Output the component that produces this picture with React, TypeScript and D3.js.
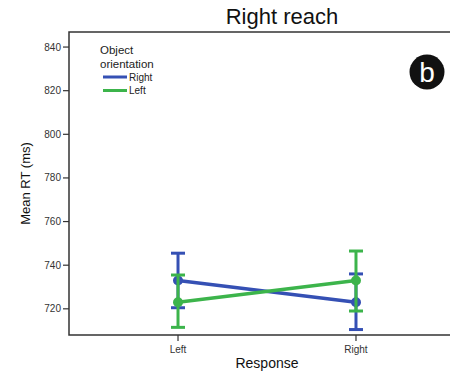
import React from "react";
import * as d3 from "d3";

const responses = ["Left", "Right"];
const yTicks = [720, 740, 760, 780, 800, 820, 840];

// Object orientation = Right (blue)
const rightMean = [733, 723];
const rightLow = [720.5, 710.5];
const rightHigh = [745.5, 736];

// Object orientation = Left (green)
const leftMean = [723, 733];
const leftLow = [711.5, 719];
const leftHigh = [735.5, 746.5];

const series = [
  { name: "Right", color: "#3550b4", mean: rightMean, low: rightLow, high: rightHigh },
  { name: "Left", color: "#3cb44b", mean: leftMean, low: leftLow, high: leftHigh },
];

const W = 450;
const H = 372;
const margin = { top: 32, right: -15, bottom: 37, left: 69 };
const font = "'Liberation Sans', Arial, sans-serif";

export default function App() {
  const x = d3
    .scalePoint<string>()
    .domain(responses)
    .range([margin.left, W - margin.right])
    .padding(0.6125);

  const y = d3
    .scaleLinear()
    .domain([708, 846.9])
    .range([H - margin.bottom, margin.top]);

  const line = d3
    .line<number>()
    .x((_, i) => x(responses[i]) as number)
    .y((d) => y(d));

  const bottom = H - margin.bottom;
  const cap = 7;

  return (
    <svg width={W} height={H} style={{ position: "absolute", left: 0, top: 0 }} fontFamily={font}>
      <rect width={W} height={H} fill="#fff" />
      <text x={282} y={24} textAnchor="middle" fontSize={22} fill="#111">
        Right reach
      </text>

      {/* frame */}
      <path
        d={`M${W + 5},${margin.top}H${margin.left}V${bottom}H${W + 5}`}
        fill="none"
        stroke="#333"
        strokeWidth={1.5}
      />

      {/* y axis */}
      {yTicks.map((t) => (
        <g key={t}>
          <line x1={margin.left - 6} x2={margin.left} y1={y(t)} y2={y(t)} stroke="#333" strokeWidth={1.2} />
          <text x={margin.left - 8} y={y(t)} dy="0.35em" textAnchor="end" fontSize={10} fill="#333">
            {t}
          </text>
        </g>
      ))}
      <text
        transform={`translate(30,${(margin.top + bottom) / 2}) rotate(-90)`}
        textAnchor="middle"
        fontSize={13}
        fill="#111"
      >
        Mean RT (ms)
      </text>

      {/* x axis */}
      {responses.map((r) => (
        <g key={r}>
          <line x1={x(r)} x2={x(r)} y1={bottom} y2={bottom + 6} stroke="#333" strokeWidth={1.2} />
          <text x={x(r)} y={bottom + 18} textAnchor="middle" fontSize={10} fill="#333">
            {r}
          </text>
        </g>
      ))}
      <text x={267} y={368} textAnchor="middle" fontSize={14} fill="#111">
        Response
      </text>

      {/* series */}
      {series.map((s) => (
        <g key={s.name} stroke={s.color} fill={s.color}>
          <path d={line(s.mean) ?? ""} fill="none" strokeWidth={3.5} />
          {responses.map((r, i) => {
            const cx = x(r) as number;
            return (
              <g key={r} strokeWidth={3}>
                <line x1={cx} x2={cx} y1={y(s.low[i])} y2={y(s.high[i])} />
                <line x1={cx - cap} x2={cx + cap} y1={y(s.low[i])} y2={y(s.low[i])} />
                <line x1={cx - cap} x2={cx + cap} y1={y(s.high[i])} y2={y(s.high[i])} />
                <circle cx={cx} cy={y(s.mean[i])} r={5} stroke="none" />
              </g>
            );
          })}
        </g>
      ))}

      {/* legend */}
      <text x={100} y={54} fontSize={11.5} fill="#222">Object</text>
      <text x={100} y={68} fontSize={11.5} fill="#222">orientation</text>
      {series.map((s, i) => (
        <g key={s.name}>
          <line x1={103} x2={127} y1={77 + i * 13.5} y2={77 + i * 13.5} stroke={s.color} strokeWidth={3} />
          <text x={129} y={77 + i * 13.5} dy="0.35em" fontSize={10} fill="#222">
            {s.name}
          </text>
        </g>
      ))}

      {/* panel badge */}
      <circle cx={427} cy={72} r={17.5} fill="#111" />
      <text x={427} y={72} dy="0.36em" textAnchor="middle" fontSize={28} fill="#fff">
        b
      </text>
    </svg>
  );
}
